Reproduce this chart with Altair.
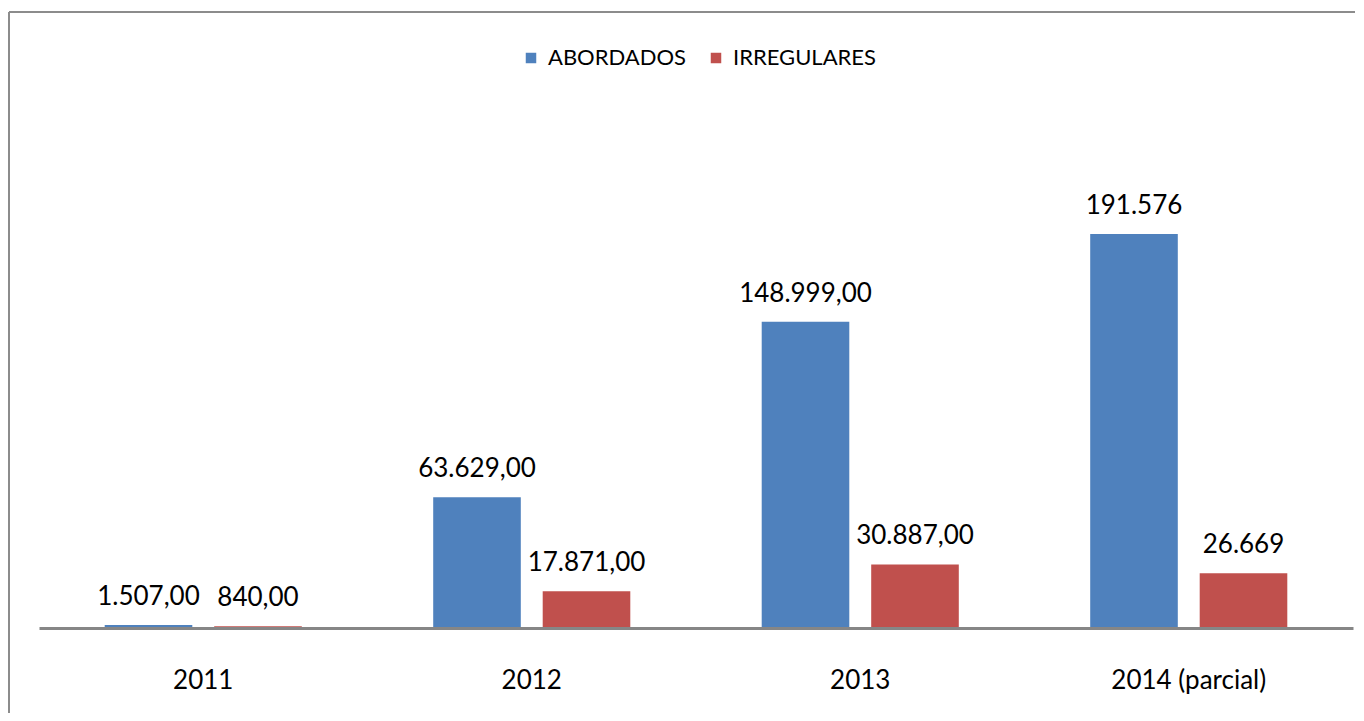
import altair as alt
import pandas as pd

years = ["2011", "2012", "2013", "2014 (parcial)"]
series = ["ABORDADOS", "IRREGULARES"]
abordados = [1507, 63629, 148999, 191576]
irregulares = [840, 17871, 30887, 26669]
abordados_labels = ["1.507,00", "63.629,00", "148.999,00", "191.576"]
irregulares_labels = ["840,00", "17.871,00", "30.887,00", "26.669"]
colors = ["#4F81BD", "#C0504D"]

rows = []
for i, y in enumerate(years):
    rows.append({"year": y, "serie": series[0], "value": abordados[i], "label": abordados_labels[i]})
    rows.append({"year": y, "serie": series[1], "value": irregulares[i], "label": irregulares_labels[i]})
df = pd.DataFrame(rows)

W = 1314
H = 514
FONT = "Lato"

xenc = alt.X("year:N", sort=years, title=None,
             scale=alt.Scale(paddingInner=0, paddingOuter=0),
             axis=alt.Axis(labelAngle=0, ticks=False, domainColor="#868686", domainWidth=3,
                           labelFontSize=26, labelFont=FONT, labelColor="#000000",
                           labelPadding=39, grid=False, zindex=1))
xoff = alt.XOffset("serie:N", sort=series,
                   scale=alt.Scale(paddingInner=0.2, paddingOuter=0.6))
yenc = alt.Y("value:Q", scale=alt.Scale(domain=[0, 250000], nice=False), axis=None)

bars = alt.Chart(df).mark_bar().encode(
    x=xenc, xOffset=xoff, y=yenc,
    color=alt.Color("serie:N", sort=series,
                    scale=alt.Scale(domain=series, range=colors),
                    legend=alt.Legend(title=None, orient="none", direction="horizontal",
                                      legendX=481, legendY=-67,
                                      symbolType="square", symbolSize=110, symbolStrokeWidth=0,
                                      labelFontSize=22, labelFont=FONT, labelColor="#000000",
                                      labelOffset=6, columnPadding=19)),
)

text = alt.Chart(df).mark_text(baseline="middle", dy=-28, fontSize=26, font=FONT, color="#000000").encode(
    x=xenc, xOffset=xoff, y=yenc, text="label:N"
)

frame_top = alt.Chart(pd.DataFrame({"a": [0]})).mark_rule(color="#8c8c8c", strokeWidth=2).encode(
    x=alt.value(-30), x2=alt.value(W + 2), y=alt.value(-102)
)
frame_left = alt.Chart(pd.DataFrame({"a": [0]})).mark_rule(color="#8c8c8c", strokeWidth=2).encode(
    x=alt.value(-30), y=alt.value(-102), y2=alt.value(H + 85)
)

chart = alt.layer(bars, text, frame_top, frame_left).properties(
    width=W, height=H, padding={"left": 0, "top": 3, "right": 0, "bottom": 0}
).configure(background="white").configure_view(stroke=None)

chart.save("out.html", embed_options={"renderer": "svg", "actions": False})
